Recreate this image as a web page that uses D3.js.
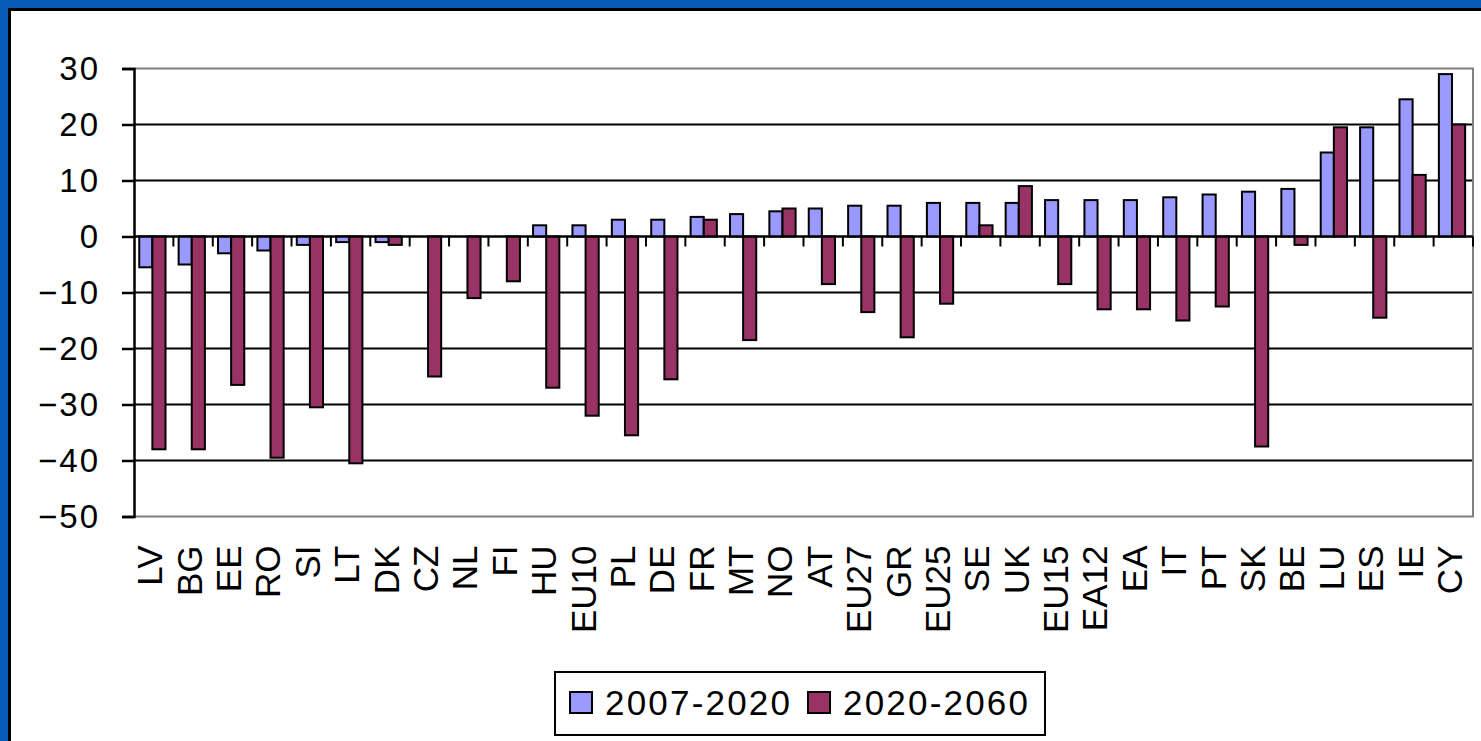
<!DOCTYPE html>
<html>
<head>
<meta charset="utf-8">
<script src="https://cdn.jsdelivr.net/npm/d3@7"></script>
<style>
  html, body { margin: 0; padding: 0; background: #0a5bb8; overflow: hidden; }
  text { font-family: Arial, "Liberation Sans", sans-serif; fill: #000; }
</style>
</head>
<body>
<div id="chart"></div>
<script>
// categories and series values
var countries = ["LV","BG","EE","RO","SI","LT","DK","CZ","NL","FI","HU","EU10","PL","DE","FR","MT","NO","AT",
                 "EU27","GR","EU25","SE","UK","EU15","EA12","EA","IT","PT","SK","BE","LU","ES","IE","CY"];
var seriesNames = ["2007-2020", "2020-2060"];
var values2007 = [-5.5,-5,-3,-2.5,-1.5,-1,-1,0,0,0,2,2,3,3,3.5,4,4.5,5,5.5,5.5,6,6,6,6.5,6.5,6.5,7,7.5,8,8.5,15,19.5,24.5,29];
var values2020 = [-38,-38,-26.5,-39.5,-30.5,-40.5,-1.5,-25,-11,-8,-27,-32,-35.5,-25.5,3,-18.5,5,-8.5,-13.5,-18,-12,2,9,-8.5,-13,-13,-15,-12.5,-37.5,-1.5,19.5,-14.5,11,20];
var yTicks = [30, 20, 10, 0, -10, -20, -30, -40, -50];
var colors = ["#9999ff", "#993366"];

var W = 1481, H = 741;
var margin = {top: 68.5, right: 8, bottom: 224.5, left: 134},
    width = W - margin.left - margin.right,
    height = H - margin.top - margin.bottom;

var root = d3.select("#chart").append("svg")
    .attr("width", W)
    .attr("height", H);

// slide panel: white with black edge on left and top
root.append("rect")
    .attr("x", 9.5).attr("y", 9.5)
    .attr("width", W).attr("height", H)
    .attr("fill", "#fff")
    .attr("stroke", "#000")
    .attr("stroke-width", 3);

var svg = root.append("g")
    .attr("transform", "translate(" + margin.left + "," + margin.top + ")");

var data = countries.map(function(c, i) {
  return {name: c, vals: [values2007[i], values2020[i]]};
});

var x = d3.scaleBand().domain(countries).range([0, width]).paddingInner(0).paddingOuter(0);
var x1 = d3.scaleBand().domain(seriesNames).range([0, x.bandwidth()])
    .paddingInner(0).paddingOuter(0.5).align(0.4);
var y = d3.scaleLinear().domain([-50, 30]).range([height, 0]);

// gridlines
svg.append("g")
  .selectAll("line")
  .data(yTicks.filter(function(d) { return d !== 30 && d !== -50; }))
  .enter().append("line")
    .attr("x1", 0).attr("x2", width)
    .attr("y1", function(d) { return y(d); })
    .attr("y2", function(d) { return y(d); })
    .attr("stroke", "#000")
    .attr("stroke-width", 2);

// plot frame (grey top/right/bottom)
svg.append("path")
  .attr("d", "M0," + y(30) + "H" + width + "V" + y(-50) + "H0")
  .attr("fill", "none")
  .attr("stroke", "#808080")
  .attr("stroke-width", 2);

// bars
var groups = svg.append("g")
  .selectAll("g")
  .data(data)
  .enter().append("g")
    .attr("transform", function(d) { return "translate(" + x(d.name) + ",0)"; });

groups.selectAll("rect")
  .data(function(d) {
    return d.vals.map(function(v, j) { return {key: seriesNames[j], v: v, j: j}; })
      .filter(function(e) { return e.v !== 0; });
  })
  .enter().append("rect")
    .attr("x", function(d) { return x1(d.key); })
    .attr("width", x1.bandwidth())
    .attr("y", function(d) { return y(Math.max(0, d.v)); })
    .attr("height", function(d) { return Math.abs(y(d.v) - y(0)); })
    .attr("fill", function(d) { return colors[d.j]; })
    .attr("stroke", "#000")
    .attr("stroke-width", 2);

// zero axis with category ticks
svg.append("line")
  .attr("x1", 0).attr("x2", width)
  .attr("y1", y(0)).attr("y2", y(0))
  .attr("stroke", "#000").attr("stroke-width", 2);

svg.append("g")
  .selectAll("line")
  .data(countries)
  .enter().append("line")
    .attr("x1", function(d) { return x(d) + x.bandwidth(); })
    .attr("x2", function(d) { return x(d) + x.bandwidth(); })
    .attr("y1", y(0)).attr("y2", y(0) + 10)
    .attr("stroke", "#000").attr("stroke-width", 2);

// y axis
var yAxis = svg.append("g")
  .call(d3.axisLeft(y).tickValues(yTicks).tickSize(12).tickPadding(22).tickFormat(d3.format("d")));
yAxis.select(".domain").attr("stroke", "#000").attr("stroke-width", 2.5);
yAxis.selectAll(".tick line").attr("stroke", "#000").attr("stroke-width", 2.5);
yAxis.selectAll(".tick text")
  .style("font-size", "33px")
  .style("letter-spacing", "2px")
  .attr("fill", "#000");

// category labels, rotated
svg.append("g")
  .selectAll("text")
  .data(countries)
  .enter().append("text")
    .attr("transform", function(d) {
      return "translate(" + (x(d) + x.bandwidth() / 2 - 4) + "," + (y(-50) + 29) + ") rotate(-90)";
    })
    .attr("text-anchor", "end")
    .attr("dy", "0.36em")
    .style("font-size", "35px")
    .text(function(d) { return d; });

// legend
var legend = root.append("g").attr("transform", "translate(555,672)");
legend.append("rect")
  .attr("width", 490).attr("height", 63)
  .attr("fill", "#fff").attr("stroke", "#000").attr("stroke-width", 2);

var legX = [15, 253];
seriesNames.forEach(function(s, j) {
  legend.append("rect")
    .attr("x", legX[j]).attr("y", 20)
    .attr("width", 22).attr("height", 21)
    .attr("fill", colors[j]).attr("stroke", "#000").attr("stroke-width", 2);
  legend.append("text")
    .attr("x", legX[j] + 35).attr("y", 43)
    .style("font-size", "35px")
    .style("letter-spacing", "2.2px")
    .text(s);
});
</script>
</body>
</html>
